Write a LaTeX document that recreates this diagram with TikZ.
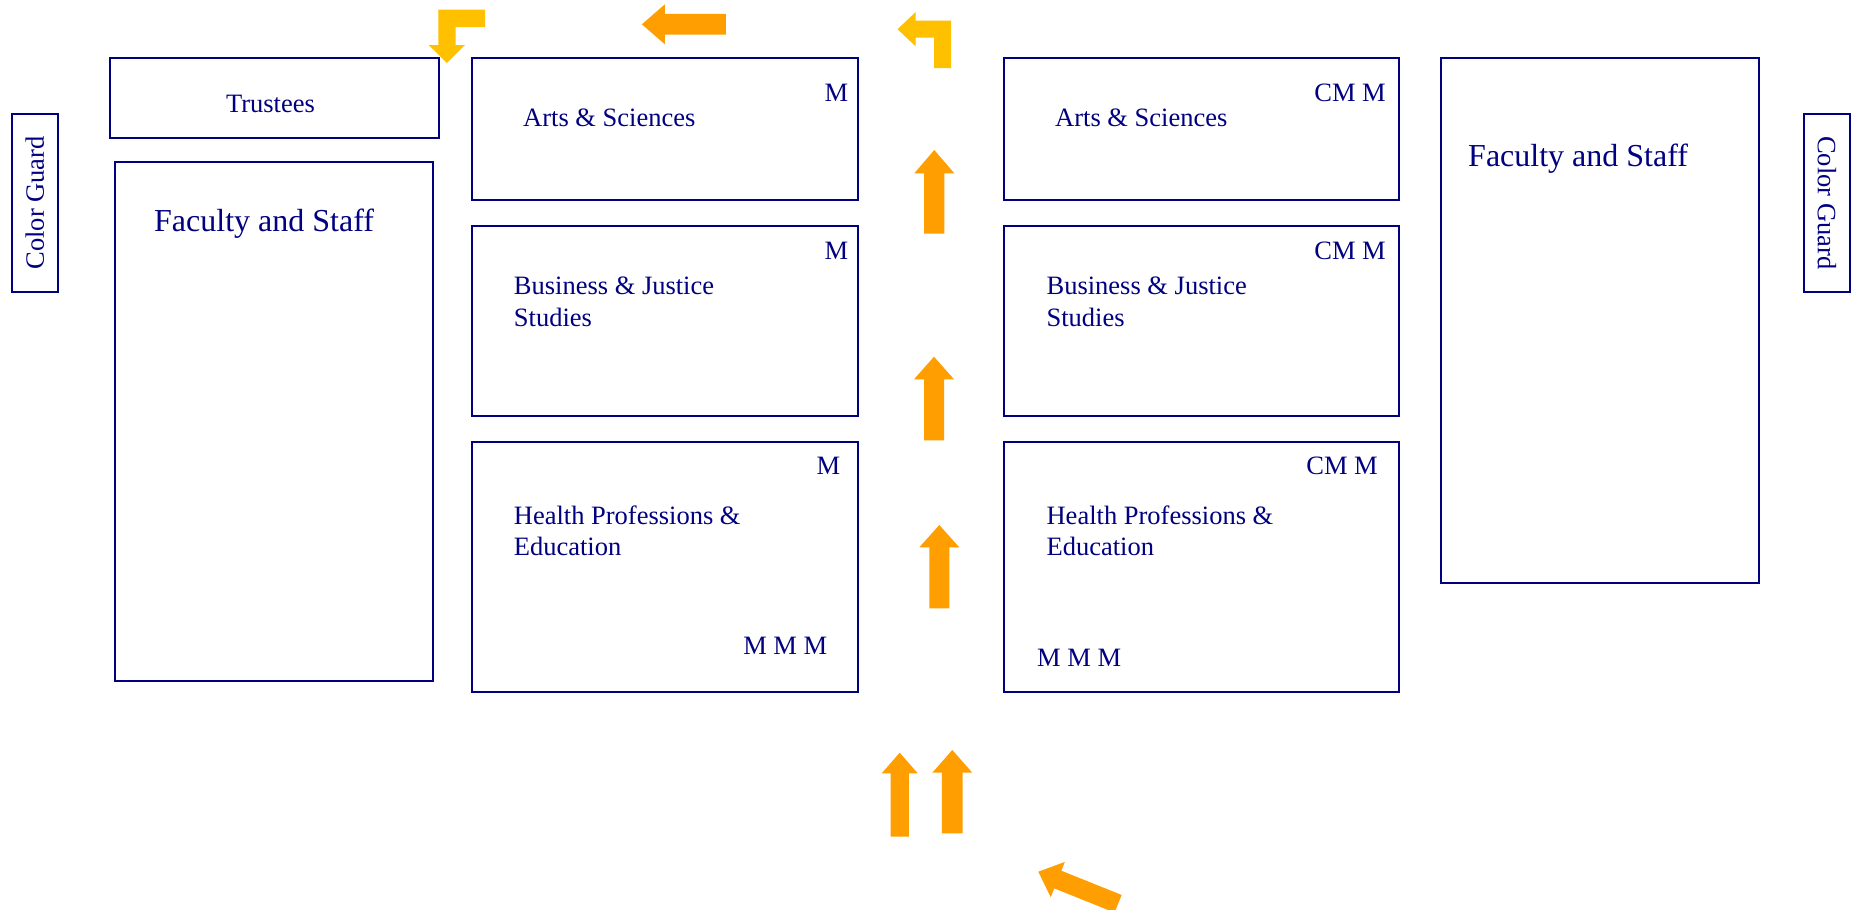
\documentclass[tikz,border=0pt]{standalone}
\usepackage{fontspec}
\setmainfont{Liberation Serif}
\definecolor{navy}{RGB}{0,0,128}
\definecolor{arrOrange}{RGB}{255,158,0}
\definecolor{arrYellow}{RGB}{255,192,0}
% color, tip, angle, length, head length, head width, shaft width
\newcommand{\blockarrow}[7]{%
  \fill[#1, shift={#2}, rotate=#3] (0,0) -- (-#5,#6/2) -- (-#5,#7/2) -- (-#4,#7/2)
    -- (-#4,-#7/2) -- (-#5,-#7/2) -- (-#5,-#6/2) -- cycle;}
\begin{document}
\begin{tikzpicture}[x=1pt,y=-1pt,
  box/.style={draw=navy, line width=1.8pt, anchor=north west, inner sep=0pt},
  lbl/.style={text=navy, inner sep=0pt, font=\fontsize{26.5}{31.5}\selectfont},
  biglbl/.style={text=navy, inner sep=0pt, font=\fontsize{32}{38}\selectfont}]
\useasboundingbox (0,0) rectangle (1856,910);
\fill[white] (0,0) rectangle (1856,910);

% boxes
\node[box, minimum width=46pt, minimum height=178pt] (cgL) at (11,113) {};
\node[box, minimum width=46pt, minimum height=178pt] (cgR) at (1803,113) {};
\node[box, minimum width=329pt, minimum height=80pt] (trust) at (109,57) {};
\node[box, minimum width=318pt, minimum height=519pt] (facL) at (114,161) {};
\node[box, minimum width=386pt, minimum height=142pt] (artsL) at (471,57) {};
\node[box, minimum width=386pt, minimum height=190pt] (busL) at (471,225) {};
\node[box, minimum width=386pt, minimum height=250pt] (hlthL) at (471,441) {};
\node[box, minimum width=395pt, minimum height=142pt] (artsR) at (1003,57) {};
\node[box, minimum width=395pt, minimum height=190pt] (busR) at (1003,225) {};
\node[box, minimum width=395pt, minimum height=250pt] (hlthR) at (1003,441) {};
\node[box, minimum width=318pt, minimum height=525pt] (facR) at (1440,57) {};

% texts
\node[lbl, rotate=90] (cgLt) at (cgL.center) {Color Guard};
\node[lbl, rotate=-90] (cgRt) at (cgR.center) {Color Guard};
\node[lbl, anchor=base] (trustT) at (270.5,112) {Trustees};
\node[biglbl, anchor=base west] (facLt) at (154,231) {Faculty and Staff};
\node[biglbl, anchor=base west] (facRt) at (1468,166) {Faculty and Staff};

\node[lbl, anchor=base west] (artsLt) at (523,126) {Arts \& Sciences};
\node[lbl, anchor=base east] (artsLm) at (848.5,101.7) {M};
\node[lbl, anchor=base west] (busLt1) at (513.7,294.5) {Business \& Justice};
\node[lbl, anchor=base west] (busLt2) at (513.7,326) {Studies};
\node[lbl, anchor=base east] (busLm) at (848.5,259.5) {M};
\node[lbl, anchor=base west] (hlthLt1) at (513.7,524) {Health Professions \&};
\node[lbl, anchor=base west] (hlthLt2) at (513.7,555) {Education};
\node[lbl, anchor=base east] (hlthLm) at (840.4,474.6) {M};
\node[lbl, anchor=base east] (hlthLmmm) at (827.4,654.5) {M M M};

\node[lbl, anchor=base west] (artsRt) at (1055,126) {Arts \& Sciences};
\node[lbl, anchor=base east] (artsRm) at (1386,101.7) {CM M};
\node[lbl, anchor=base west] (busRt1) at (1046.4,294.5) {Business \& Justice};
\node[lbl, anchor=base west] (busRt2) at (1046.4,326) {Studies};
\node[lbl, anchor=base east] (busRm) at (1386,259.5) {CM M};
\node[lbl, anchor=base west] (hlthRt1) at (1046.4,524) {Health Professions \&};
\node[lbl, anchor=base west] (hlthRt2) at (1046.4,555) {Education};
\node[lbl, anchor=base east] (hlthRm) at (1378,474.6) {CM M};
\node[lbl, anchor=base west] (hlthRmmm) at (1037,666.4) {M M M};

% yellow bent arrows
\fill[arrYellow] (485,9.5) -- (438.3,9.5) -- (438.3,45) -- (428.7,45) -- (446.9,63)
  -- (465,45) -- (455.5,45) -- (455.5,27) -- (485,27) -- cycle;
\fill[arrYellow] (951,68) -- (951,20.7) -- (915.5,20.7) -- (915.5,12.2) -- (897.5,29.2)
  -- (915.5,46.2) -- (915.5,37.7) -- (934,37.7) -- (934,68) -- cycle;

% orange block arrows
\blockarrow{arrOrange}{(641.9,24.3)}{180}{84}{23}{40}{20.7}
\blockarrow{arrOrange}{(934.3,150)}{90}{83.7}{23.3}{40}{20.3}
\blockarrow{arrOrange}{(934,356.7)}{90}{83.6}{22.6}{40}{20}
\blockarrow{arrOrange}{(939.3,525)}{90}{83.3}{22.3}{40}{20}
\blockarrow{arrOrange}{(899.7,752.7)}{90}{84}{20.6}{36}{18.3}
\blockarrow{arrOrange}{(952.3,750)}{90}{83.3}{22.7}{40}{20.7}
\blockarrow{arrOrange}{(1038.3,871.7)}{158.1}{86}{21}{38}{19}
\end{tikzpicture}
\end{document}
